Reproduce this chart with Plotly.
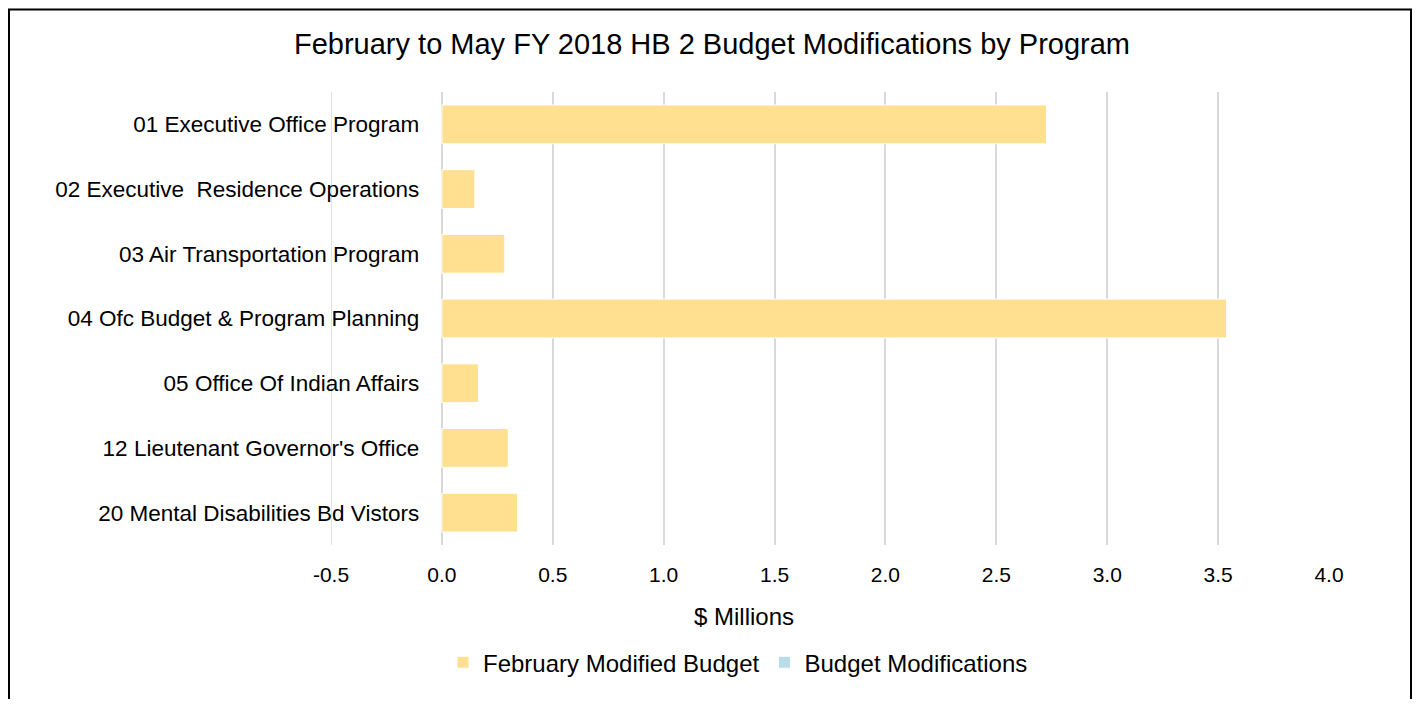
import plotly.graph_objects as go

categories = [
    "01 Executive Office Program",
    "02 Executive  Residence Operations",
    "03 Air Transportation Program",
    "04 Ofc Budget & Program Planning",
    "05 Office Of Indian Affairs",
    "12 Lieutenant Governor's Office",
    "20 Mental Disabilities Bd Vistors",
]
february_modified_budget = [2.728, 0.150, 0.285, 3.539, 0.165, 0.300, 0.343]
budget_modifications = [0, 0, 0, 0, 0, 0, 0]
tick_values = [-0.5, 0.0, 0.5, 1.0, 1.5, 2.0, 2.5, 3.0, 3.5, 4.0]
tick_labels = ["-0.5", "0.0", "0.5", "1.0", "1.5", "2.0", "2.5", "3.0", "3.5", "4.0"]

FONT = "Liberation Sans, Arial, sans-serif"
OFF = 8  # page body margin
W, H = 1404, 691
plot_left, plot_right, plot_top, plot_bottom = 331, 1329, 91.6, 545.2
L = plot_left - OFF
R = W - (plot_right - OFF)
T = plot_top - OFF
B = H - (plot_bottom - OFF)
pw = W - L - R
ph = H - T - B

def px_x(x):
    return (x - OFF - L) / pw

def px_y(y):
    return (H - B - (y - OFF)) / ph

fig = go.Figure()
fig.add_trace(go.Bar(
    y=categories, x=february_modified_budget, orientation="h",
    name="February Modified Budget",
    marker=dict(color="#FEE090", line=dict(color="white", width=1)),
))
fig.add_trace(go.Bar(
    y=categories, x=budget_modifications, orientation="h",
    name="Budget Modifications",
    marker=dict(color="#B8DDE8", line=dict(color="white", width=1)),
))

fig.update_layout(
    width=W, height=H,
    margin=dict(l=L, r=R, t=T, b=B),
    barmode="relative",
    bargap=0.4,
    paper_bgcolor="white",
    plot_bgcolor="white",
    font=dict(family=FONT, color="#000000"),
    title=dict(
        text="February to May FY 2018 HB 2 Budget Modifications by Program",
        x=px_x(712), xref="paper", xanchor="center",
        y=1 - (44 - OFF) / H, yref="container", yanchor="middle",
        font=dict(size=29, family=FONT, color="#000000"),
    ),
    xaxis=dict(
        range=[-0.5, 4.0], tickvals=tick_values, ticktext=tick_labels,
        showgrid=True, gridcolor="#D9D9D9", gridwidth=1.5,
        zeroline=True, zerolinecolor="#D9D9D9", zerolinewidth=1.5,
        showline=False,
        ticks="outside", ticklen=11, tickcolor="rgba(0,0,0,0)",
        tickfont=dict(size=21, family=FONT, color="#000000"),
        domain=[0, 1],
    ),
    yaxis=dict(
        autorange="reversed",
        anchor="free", position=px_x(441.7),
        showgrid=False, showline=False,
        ticks="outside", ticklen=18, tickcolor="rgba(0,0,0,0)",
        tickfont=dict(size=22.5, family=FONT, color="#000000"),
    ),
    legend=dict(
        orientation="h",
        x=px_x(738), xanchor="center",
        y=px_y(663), yanchor="middle",
        font=dict(size=24, family=FONT, color="#000000"),
        itemwidth=30,
        traceorder="normal",
    ),
    showlegend=True,
)

# gridline at the left edge of the axis range (Plotly omits it at the boundary)
fig.add_shape(
    type="line", xref="x", yref="paper",
    x0=tick_values[0], x1=tick_values[0], y0=0, y1=1,
    line=dict(color="#D9D9D9", width=1.5), layer="below",
)

fig.add_annotation(
    text="$ Millions", xref="paper", yref="paper",
    x=px_x(744), y=px_y(617), xanchor="center", yanchor="middle",
    showarrow=False, font=dict(size=24, family=FONT, color="#000000"),
)

fig.add_shape(
    type="rect", xref="paper", yref="paper",
    x0=px_x(9), x1=px_x(1411), y0=px_y(730), y1=px_y(9),
    line=dict(color="black", width=2), fillcolor="rgba(0,0,0,0)", layer="above",
)

fig.write_html("out.html")
